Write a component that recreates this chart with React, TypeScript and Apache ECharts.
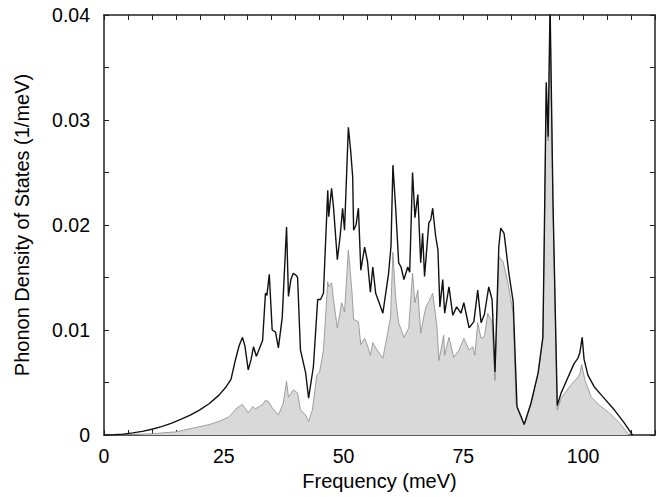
import React, { useEffect, useRef } from "react";
import * as echarts from "echarts";

const totalFreq = [0, 2, 4, 6, 8, 10, 12, 14, 16, 18, 20, 22, 24, 25.5, 26.5, 27.4, 28.2, 28.9, 29.4, 30.1, 30.7, 31.2, 31.8, 32.4, 33.1, 33.7, 34.0, 34.5, 35.1, 35.8, 36.4, 37.2, 38.1, 38.5, 39.0, 39.5, 40.1, 40.4, 41.0, 42.1, 42.7, 43.2, 43.7, 44.6, 45.2, 45.8, 46.4, 46.7, 46.9, 47.5, 47.9, 48.7, 49.3, 49.8, 50.2, 51.0, 51.5, 51.9, 52.1, 52.6, 53.1, 53.6, 54.4, 55.0, 55.6, 56.1, 56.7, 57.5, 58.2, 59.4, 59.9, 60.3, 60.9, 61.5, 62.0, 62.6, 63.4, 63.8, 64.4, 64.9, 65.5, 66.1, 66.5, 66.9, 67.8, 68.2, 68.6, 69.2, 69.7, 70.1, 70.7, 71.1, 72.0, 72.8, 73.6, 74.5, 75.1, 75.6, 76.2, 77.2, 78.0, 78.7, 79.4, 80.3, 81.0, 81.6, 82.4, 82.8, 83.5, 84.5, 85.4, 86.2, 87.7, 89.1, 90.6, 91.6, 91.9, 92.3, 92.7, 93.1, 93.7, 94.6, 95.4, 98.1, 98.9, 99.3, 99.8, 100.2, 101.0, 102.3, 104.0, 106.5, 108.5, 110.3];
const totalDos = [0, 0.00002, 0.00008, 0.0002, 0.00035, 0.00055, 0.0008, 0.0011, 0.00148, 0.0019, 0.0024, 0.003, 0.0038, 0.0046, 0.0053, 0.0071, 0.0085, 0.0093, 0.0085, 0.0062, 0.0072, 0.0084, 0.0075, 0.0082, 0.009, 0.0135, 0.0133, 0.0153, 0.01, 0.0098, 0.0083, 0.0112, 0.0198, 0.0132, 0.0148, 0.0154, 0.0152, 0.015, 0.0081, 0.0059, 0.0035, 0.005, 0.0065, 0.0129, 0.0129, 0.0135, 0.02, 0.0233, 0.0208, 0.0235, 0.0217, 0.0167, 0.019, 0.0216, 0.0195, 0.0293, 0.027, 0.0246, 0.0195, 0.02, 0.0216, 0.0157, 0.0179, 0.0165, 0.0136, 0.016, 0.0135, 0.0125, 0.0116, 0.0154, 0.018, 0.0257, 0.0214, 0.0164, 0.016, 0.0148, 0.016, 0.0155, 0.025, 0.0207, 0.0229, 0.0164, 0.0192, 0.0151, 0.0202, 0.0205, 0.0216, 0.019, 0.0176, 0.0122, 0.0148, 0.0116, 0.0141, 0.0114, 0.0122, 0.0116, 0.0126, 0.0115, 0.0102, 0.0108, 0.0138, 0.0107, 0.0115, 0.0141, 0.0129, 0.006, 0.0179, 0.0197, 0.0192, 0.0154, 0.0127, 0.0027, 0.001, 0.003, 0.0059, 0.0093, 0.019, 0.0336, 0.0284, 0.041, 0.0224, 0.0028, 0.004, 0.0068, 0.0073, 0.0078, 0.0093, 0.0072, 0.0057, 0.0046, 0.0037, 0.0024, 0.0012, 0];

const partialFreq = [0, 5, 10, 15, 19, 22, 24, 26, 27.8, 28.9, 30.1, 31.0, 31.6, 33.1, 33.7, 34.3, 35.1, 36.4, 37.4, 38.1, 38.5, 39.5, 40.4, 41.0, 42.1, 42.7, 43.5, 44.4, 45.0, 45.8, 46.7, 46.9, 47.5, 47.9, 48.7, 49.6, 50.2, 51.0, 51.7, 52.1, 53.1, 53.6, 54.4, 55.0, 55.6, 56.1, 56.7, 58.2, 59.2, 59.8, 60.3, 60.9, 61.5, 62.6, 63.6, 64.4, 64.9, 65.5, 66.1, 66.7, 67.2, 67.8, 68.6, 69.5, 69.9, 70.9, 71.1, 72.0, 73.0, 74.1, 75.1, 76.2, 77.0, 77.4, 78.0, 78.7, 79.4, 80.1, 81.0, 81.6, 82.4, 83.3, 84.3, 85.4, 86.0, 87.7, 89.1, 90.6, 91.6, 91.9, 92.3, 92.7, 93.1, 93.7, 94.6, 95.4, 97.5, 98.9, 99.3, 99.7, 100.4, 101.7, 103.5, 105.2, 107.5, 109.6];
const partialDos = [0, 0.00003, 0.00012, 0.0003, 0.0007, 0.001, 0.0013, 0.0017, 0.0026, 0.0029, 0.0021, 0.0027, 0.0025, 0.0029, 0.0033, 0.0032, 0.0026, 0.0019, 0.003, 0.0051, 0.0036, 0.0043, 0.004, 0.0024, 0.0019, 0.0013, 0.0024, 0.0057, 0.006, 0.0081, 0.0146, 0.0141, 0.0145, 0.0129, 0.0102, 0.0126, 0.0117, 0.0176, 0.014, 0.011, 0.0108, 0.0086, 0.0092, 0.0085, 0.0076, 0.0088, 0.0083, 0.0073, 0.0097, 0.0112, 0.0174, 0.0129, 0.0107, 0.0093, 0.0102, 0.0154, 0.0126, 0.0138, 0.0097, 0.0112, 0.0122, 0.0127, 0.0135, 0.0103, 0.0071, 0.0095, 0.0076, 0.0093, 0.0074, 0.0081, 0.0092, 0.0081, 0.0084, 0.0076, 0.0107, 0.0092, 0.0094, 0.0116, 0.0107, 0.0052, 0.017, 0.0165, 0.0145, 0.0116, 0.003, 0.001, 0.003, 0.0059, 0.0093, 0.019, 0.033, 0.028, 0.04, 0.022, 0.0024, 0.0035, 0.0048, 0.0055, 0.0058, 0.0067, 0.0052, 0.0036, 0.0028, 0.0022, 0.0012, 0];

const xTicks = [0, 25, 50, 75, 100];
const yTicks = [0, 0.01, 0.02, 0.03, 0.04];

const FONT = "Liberation Sans";

export default function App() {
  const ref = useRef<HTMLDivElement>(null);
  useEffect(() => {
    if (!ref.current) return;
    const chart = echarts.init(ref.current, null, { renderer: "svg" });
    const total = totalFreq.map((f, i) => [f, totalDos[i]]);
    const partial = partialFreq.map((f, i) => [f, partialDos[i]]);
    const axisCommon = {
      axisLine: { show: true, onZero: false, lineStyle: { color: "#222", width: 1.5 } },
      axisTick: { show: true, inside: true, length: 5, lineStyle: { color: "#222", width: 1 } },
      minorTick: { show: true, splitNumber: 5, length: 5, lineStyle: { color: "#222", width: 1 } },
      splitLine: { show: false },
    };
    chart.setOption({
      animation: false,
      backgroundColor: "#fff",
      grid: { left: 104, right: 5, top: 15, bottom: 62, containLabel: false },
      xAxis: [
        {
          type: "value",
          min: 0,
          max: 115,
          interval: 25,
          ...axisCommon,
          axisLabel: {
            show: true,
            fontFamily: FONT,
            fontSize: 19.5,
            color: "#000",
            margin: 11,
            formatter: (v: number) => (xTicks.includes(v) ? String(v) : ""),
          },
          name: "Frequency (meV)",
          nameLocation: "middle",
          nameGap: 36,
          nameTextStyle: { fontFamily: FONT, fontSize: 20, color: "#000" },
        },
        {
          type: "value",
          position: "top",
          min: 0,
          max: 115,
          interval: 25,
          ...axisCommon,
          axisLabel: { show: false },
        },
      ],
      yAxis: [
        {
          type: "value",
          min: 0,
          max: 0.04,
          interval: 0.01,
          ...axisCommon,
          minorTick: { show: true, splitNumber: 2, length: 5, lineStyle: { color: "#222", width: 1 } },
          axisLabel: {
            show: true,
            fontFamily: FONT,
            fontSize: 19.5,
            color: "#000",
            margin: 14,
            formatter: (v: number) => {
              const t = yTicks.find((y) => Math.abs(y - v) < 1e-9);
              return t === undefined ? "" : t === 0 ? "0" : t.toFixed(2);
            },
          },
          name: "Phonon Density of States (1/meV)",
          nameLocation: "middle",
          nameGap: 72,
          nameTextStyle: { fontFamily: FONT, fontSize: 20, color: "#000" },
        },
        {
          type: "value",
          position: "right",
          min: 0,
          max: 0.04,
          interval: 0.01,
          ...axisCommon,
          minorTick: { show: true, splitNumber: 2, length: 5, lineStyle: { color: "#222", width: 1 } },
          axisLabel: { show: false },
        },
      ],
      series: [
        {
          type: "line",
          name: "partial",
          data: partial,
          showSymbol: false,
          symbol: "none",
          clip: true,
          lineStyle: { color: "#8a8a8a", width: 0.8 },
          areaStyle: { color: "#d9d9d9", opacity: 1 },
          z: 2,
        },
        {
          type: "line",
          name: "total",
          data: total,
          showSymbol: false,
          symbol: "none",
          clip: true,
          lineStyle: { color: "#111", width: 1.4 },
          z: 3,
        },
      ],
    });
    return () => chart.dispose();
  }, []);
  return <div ref={ref} style={{ width: 660, height: 497, position: "absolute", left: 0, top: 0 }} />;
}
